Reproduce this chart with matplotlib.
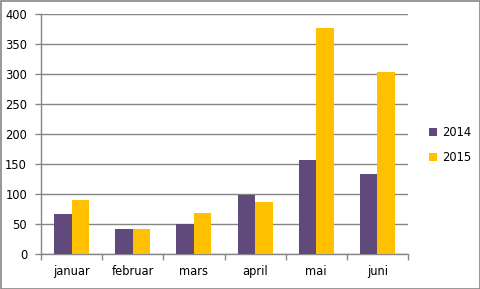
import matplotlib
matplotlib.use('Agg')
import matplotlib.pyplot as plt
import numpy as np

# data
months = ['januar', 'februar', 'mars', 'april', 'mai', 'juni']
v2014 = [67, 42, 50, 99, 157, 134]
v2015 = [90, 42, 69, 87, 377, 304]
yticks = [0, 50, 100, 150, 200, 250, 300, 350, 400]

W, H = 481, 289
fig = plt.figure(figsize=(W / 100, H / 100), dpi=100)
fig.patch.set_facecolor('white')

# plot area in pixels
left, right, top, bottom = 41, 408, 14.3, 254.3
ax = fig.add_axes([left / W, 1 - bottom / H, (right - left) / W, (bottom - top) / H])

x = np.arange(len(months))
bw = 1 / 3.5
ax.bar(x - bw / 2, v2014, bw, color='#604A7B', label='2014', zorder=3)
ax.bar(x + bw / 2, v2015, bw, color='#FFC000', label='2015', zorder=3)

ax.set_xlim(-0.5, len(months) - 0.5)
ax.set_ylim(0, 400)
ax.set_yticks(yticks)
ax.set_yticklabels([str(t) for t in yticks])
ax.yaxis.grid(True, color='#868686', linewidth=1, zorder=0)

# category ticks between groups
ax.set_xticks(np.arange(-0.5, len(months)), minor=False)
ax.set_xticklabels([])
ax.set_xticks(x, minor=True)
ax.set_xticklabels(months, minor=True)
ax.tick_params(axis='x', which='major', length=4, direction='out', color='#868686', width=1)
ax.tick_params(axis='x', which='minor', length=0, pad=8, labelsize=8.3)
ax.tick_params(axis='y', length=4, direction='out', color='#868686', width=1, labelsize=8.3, pad=6)

for s in ['top', 'right']:
    ax.spines[s].set_visible(False)
for s in ['left', 'bottom']:
    ax.spines[s].set_color('#868686')
    ax.spines[s].set_linewidth(1)
ax.set_facecolor('white')

leg = ax.legend(loc='center left', bbox_to_anchor=(1.03, 0.455), frameon=False,
                fontsize=8.3, handlelength=0.7, handleheight=0.7,
                handletextpad=0.4, labelspacing=1.05)

# outer border
fig.add_artist(plt.Rectangle((0.5 / W, 0.5 / H), 1 - 1 / W, 1 - 1 / H,
                             transform=fig.transFigure, fill=False,
                             edgecolor='#868686', linewidth=1.2))

fig.savefig('out.png', dpi=100)
